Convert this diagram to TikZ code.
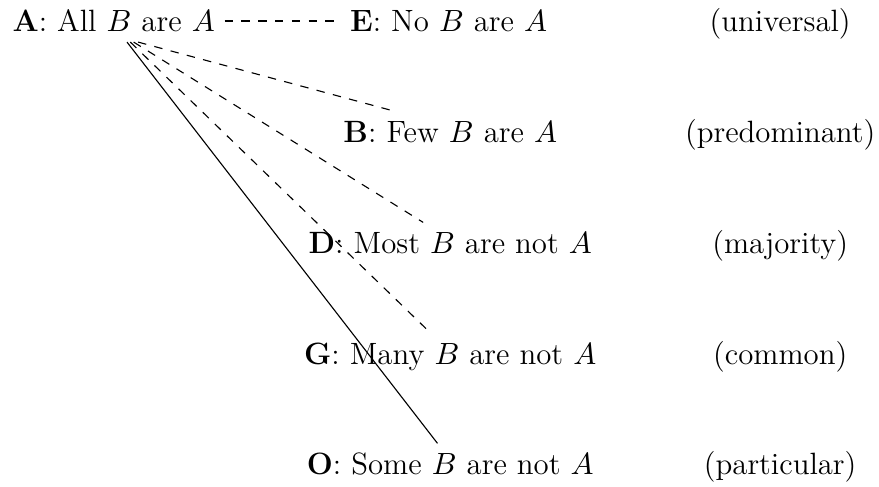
\documentclass[tikz,border=0pt]{standalone}
\usepackage{amsmath}
\usepackage{tikz}
\usetikzlibrary{positioning,calc}

\begin{document}
\begin{tikzpicture}[
  every node/.style={font=\fontsize{11pt}{13.6pt}\selectfont},
  stmt/.style={anchor=base},
  kind/.style={anchor=base},
  link/.style={dashed}
]
\useasboundingbox (0,0) rectangle (11.03,-6.11);

\node[stmt, anchor=base west] (a) at (0.034,-0.40) {\textbf{A}: All $B$ are $A$};
\node[stmt, right=1.45cm of a] (e) {\textbf{E}: No $B$ are $A$};
\node[stmt] (b) at (5.65,-1.79) {\textbf{B}: Few $B$ are $A$};
\node[stmt] (d) at (5.65,-3.18) {\textbf{D}: Most $B$ are not $A$};
\node[stmt] (g) at (5.65,-4.57) {\textbf{G}: Many $B$ are not $A$};
\node[stmt] (o) at (5.65,-5.96) {\textbf{O}: Some $B$ are not $A$};

\node[kind] (ka) at (9.79,-0.40) {(universal)};
\node[kind] (kb) at (9.79,-1.79) {(predominant)};
\node[kind] (kd) at (9.79,-3.18) {(majority)};
\node[kind] (kg) at (9.79,-4.57) {(common)};
\node[kind] (ko) at (9.79,-5.96) {(particular)};

\draw[link] (a) -- (e);
\draw[link] ($(a.south west)!0.61!(a.south east)$) -- ($(b.north)+(-0.68,0)$);
\draw[link] ($(a.south west)!0.59!(a.south east)$) -- ($(d.north)+(-0.34,0)$);
\draw[link] ($(a.south west)!0.575!(a.south east)$) -- ($(g.north)+(-0.25,0)$);
\draw ($(a.south west)!0.56!(a.south east)$) -- ($(o.north)+(-0.16,0)$);
\end{tikzpicture}
\end{document}
